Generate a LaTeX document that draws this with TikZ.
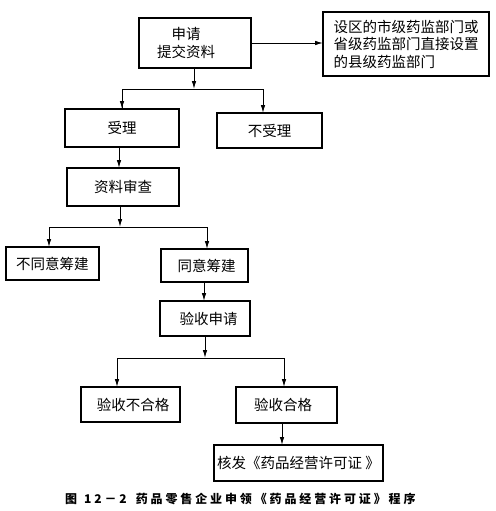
\documentclass[tikz,border=0pt]{standalone}
\usepackage{fontspec}
\usetikzlibrary{arrows.meta,calc}
\newfontfamily\cjk{Noto Sans CJK SC}
\newfontfamily\cjkcap[LetterSpace=24]{Noto Sans CJK SC}
\tikzset{
  box/.style={draw, line width=1.4pt, inner sep=0pt, outer sep=0pt, font=\cjk\fontsize{14.5}{17.5}\selectfont, align=center},
  arr/.style={line width=0.9pt, -{Latex[length=8pt,width=4.5pt]}},
  ln/.style={line width=0.9pt}
}
\begin{document}
\begin{tikzpicture}[x=1pt,y=-1pt]
\useasboundingbox (0,0) rectangle (495,511);
\node[box, minimum width=112, minimum height=50] (req) at (195,43) {申请\hspace*{18pt}\\提交资料\hspace*{18pt}};
\node[box, minimum width=166, minimum height=64, align=left] (dept) at (406,44) {设区的市级药监部门或\\省级药监部门直接设置\\的县级药监部门};
\node[box, minimum width=114, minimum height=38] (accept) at (122,128) {受理};
\node[box, minimum width=105, minimum height=35] (reject) at (269.5,130.5) {不受理};
\node[box, minimum width=112, minimum height=38] (review) at (123,187) {资料审查};
\node[box, minimum width=93, minimum height=33] (disagree) at (52.5,263.5) {不同意筹建};
\node[box, minimum width=87, minimum height=33] (agree) at (204.5,265.5) {\hspace*{4pt}同意筹建};
\node[box, minimum width=90, minimum height=35] (accreq) at (205,318.5) {\hspace*{7pt}验收申请};
\node[box, minimum width=99, minimum height=35] (fail) at (130.5,404.5) {\hspace*{5pt}验收不合格};
\node[box, minimum width=101, minimum height=36] (pass) at (286.5,405) {验收合格\hspace*{7pt}};
\node[box, minimum width=169, minimum height=36] (issue) at (298.5,463) {核发《药品经营许可证 》};
\node[font=\cjkcap\bfseries\fontsize{12}{14}\selectfont, anchor=west, inner sep=0pt] (cap) at (65,499) {图\hspace{7pt}12－2\hspace{9pt}药品零售企业申领《药品经营许可证》程序};

\coordinate (j1) at (194,89);
\coordinate (j2) at (120,227);
\coordinate (j3) at (205,358);

\draw[arr] (req.east) -- (req.east -| dept.west);
\draw[arr] ([xshift=-1]req.south) -- (j1);
\draw[ln] (j1) -| (accept.north);
\draw[arr] (122,89) -- (accept.north);
\draw[ln] (j1) -| (263,89);
\draw[arr] (263,89) -- (reject.north -| 263,0);
\draw[arr] ([xshift=-3]accept.south) -- ([xshift=-4]review.north);
\draw[arr] ([xshift=-3]review.south) -- (j2);
\draw[ln] (49,227) -- (207,227);
\draw[arr] (49,227) -- (disagree.north -| 49,0);
\draw[arr] (207,227) -- (agree.north -| 207,0);
\draw[arr] ([xshift=-0.5]agree.south) -- ([xshift=-1]accreq.north);
\draw[arr] (accreq.south) -- (j3);
\draw[ln] (117,358) -- (284,358);
\draw[arr] (117,358) -- (fail.north -| 117,0);
\draw[arr] (284,358) -- (pass.north -| 284,0);
\draw[arr] ([xshift=-4.5]pass.south) -- ([xshift=-4.5]pass.south |- issue.north);
\end{tikzpicture}
\end{document}
